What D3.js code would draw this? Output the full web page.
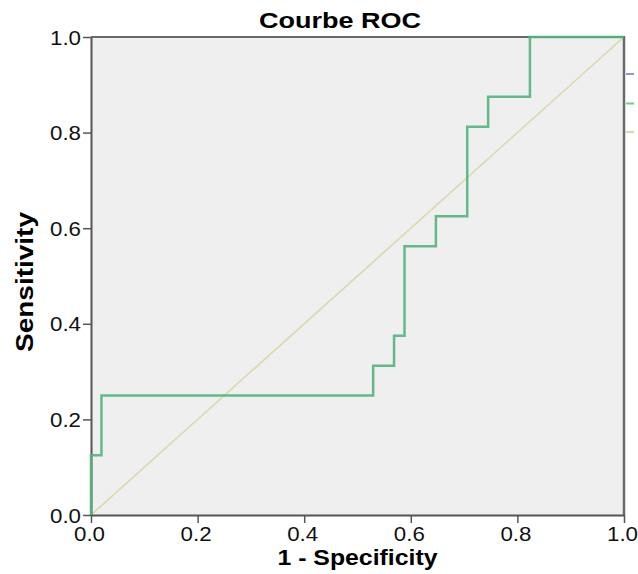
<!DOCTYPE html>
<html>
<head>
<meta charset="utf-8">
<script src="https://cdn.jsdelivr.net/npm/d3@7"></script>
<style>
  html, body { margin: 0; padding: 0; background: #ffffff; }
  svg { display: block; font-family: "Liberation Sans", Arial, Helvetica, sans-serif; }
</style>
</head>
<body>
<svg id="chart" width="638" height="574"></svg>
<script>
// ---- data ----
const title = "Courbe ROC";
const xLabel = "1 - Specificity";
const yLabel = "Sensitivity";
const tickValues = [0, 0.2, 0.4, 0.6, 0.8, 1.0];
// ROC curve coordinates (1 - specificity, sensitivity)
const rocFpr = [0, 0, 0.0196, 0.0196, 0.5294, 0.5294, 0.5686, 0.5686, 0.5882, 0.5882,
                0.6471, 0.6471, 0.7059, 0.7059, 0.7451, 0.7451, 0.8235, 0.8235, 1];
const rocTpr = [0, 0.125, 0.125, 0.25, 0.25, 0.3125, 0.3125, 0.375, 0.375, 0.5625,
                0.5625, 0.625, 0.625, 0.8125, 0.8125, 0.875, 0.875, 1, 1];
// Reference (diagonal) line
const refFpr = [0, 1];
const refTpr = [0, 1];
// legend entries (mostly cut off at the right edge)
const legendColors = ["#8a9bd8", "#6ccf8e", "#ddd8a4"];

// ---- layout ----
const W = 638, H = 574;
const L = 91, R = 624, T = 37, B = 515;
const svg = d3.select("#chart");

const x = d3.scaleLinear().domain([0, 1]).range([L, R]);
const y = d3.scaleLinear().domain([0, 1]).range([B, T]);

// plot background
svg.append("rect").attr("x", L).attr("y", T).attr("width", R - L).attr("height", B - T)
  .attr("fill", "#efefef");

// diagonal reference line
const refPts = refFpr.map((v, i) => [v, refTpr[i]]);
svg.append("path")
  .attr("d", d3.line().x(d => x(d[0])).y(d => y(d[1]))(refPts))
  .attr("fill", "none").attr("stroke", "#dcd8a8").attr("stroke-width", 1.6);

// frame (top, right)
svg.append("line").attr("x1", L).attr("x2", R).attr("y1", T).attr("y2", T)
  .attr("stroke", "#6a6a6a").attr("stroke-width", 2);
svg.append("line").attr("x1", R).attr("x2", R).attr("y1", T - 1).attr("y2", B)
  .attr("stroke", "#6a6a6a").attr("stroke-width", 2.5);

// axes
const fmt = d3.format(".1f");
const yAxis = svg.append("g").attr("transform", `translate(${L},0)`)
  .call(d3.axisLeft(y).tickValues(tickValues).tickFormat(fmt).tickSize(8).tickSizeOuter(0).tickPadding(2));
const xAxis = svg.append("g").attr("transform", `translate(0,${B})`)
  .call(d3.axisBottom(x).tickValues(tickValues).tickFormat(fmt).tickSize(8).tickSizeOuter(0).tickPadding(4));

[yAxis, xAxis].forEach(g => {
  g.select(".domain").attr("stroke", "#555").attr("stroke-width", 2);
  g.selectAll(".tick line").attr("stroke", "#555").attr("stroke-width", 1.5);
  g.selectAll(".tick text")
    .attr("fill", "#111")
    .style("font-size", "19.5px")
    .style("font-family", "'Liberation Sans', Arial, sans-serif")
    .attr("textLength", 31).attr("lengthAdjust", "spacingAndGlyphs");
});
xAxis.selectAll(".tick text").attr("dx", -2);
yAxis.selectAll(".tick text").attr("dy", "0.36em");

// ROC curve
const rocPts = rocFpr.map((v, i) => [v, rocTpr[i]]);
svg.append("path")
  .attr("d", d3.line().x(d => x(d[0])).y(d => y(d[1]))(rocPts))
  .attr("fill", "none").attr("stroke", "#52b47e").attr("stroke-width", 2.5)
  .attr("stroke-opacity", 0.9).attr("stroke-linejoin", "miter");

// legend remnants at the right edge
legendColors.forEach((c, i) => {
  const yy = [74, 103.5, 132][i];
  svg.append("line").attr("x1", 626).attr("x2", 634).attr("y1", yy).attr("y2", yy)
    .attr("stroke", c).attr("stroke-width", 2);
});

// title
svg.append("text").attr("x", 340).attr("y", 28).attr("text-anchor", "middle")
  .style("font-size", "22.5px").style("font-weight", "bold").attr("fill", "#000")
  .attr("textLength", 162).attr("lengthAdjust", "spacingAndGlyphs")
  .text(title);

// axis titles
svg.append("text").attr("x", (L + R) / 2).attr("y", 565).attr("text-anchor", "middle")
  .style("font-size", "21.5px").style("font-weight", "bold").attr("fill", "#000")
  .attr("textLength", 160).attr("lengthAdjust", "spacingAndGlyphs")
  .text(xLabel);
svg.append("text").attr("transform", `translate(33,282) rotate(-90)`).attr("text-anchor", "middle")
  .style("font-size", "23px").style("font-weight", "bold").attr("fill", "#000")
  .attr("textLength", 140).attr("lengthAdjust", "spacingAndGlyphs")
  .text(yLabel);
</script>
</body>
</html>
